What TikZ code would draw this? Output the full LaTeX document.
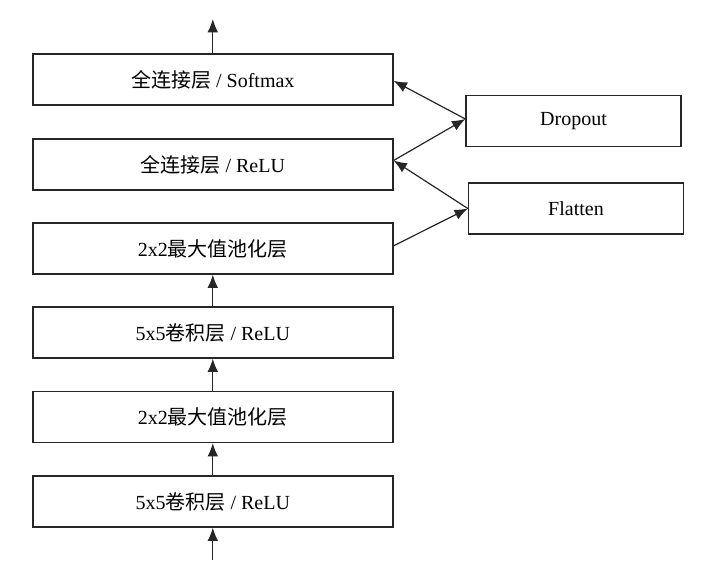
\documentclass[tikz,border=0pt]{standalone}
\usepackage{fontspec}
\setmainfont{Liberation Serif}
\newfontfamily\cjk{Noto Sans CJK SC}
\newcommand{\zh}[1]{{\cjk #1}}
\usetikzlibrary{arrows.meta}
\tikzset{every picture/.style={line width=0.75pt}}
\tikzset{
  layerbox/.style={draw=black!85, line width=1.2pt, minimum width=270pt, minimum height=38pt, inner sep=0.75pt, font=\fontsize{15}{18}\selectfont},
  sidebox/.style={draw=black!85, line width=1.2pt, minimum width=161pt, minimum height=38.5pt, inner sep=0.75pt, font=\fontsize{15}{18}\selectfont},
  flow/.style={draw=black!85, line width=0.9pt, -{Latex[length=10pt,width=8pt]}}
}

\begin{document}
\begin{tikzpicture}[x=0.75pt,y=0.75pt,yscale=-1,xscale=1]
\useasboundingbox (0,0) rectangle (726,578);

% Layer boxes
\node [layerbox] (fcsoft) at (212.8,79.5) {\zh{全连接层} / Softmax};
\node [layerbox] (fcrelu) at (212.8,164.5) {\zh{全连接层} / ReLU};
\node [layerbox] (pooltwo) at (212.8,248.5) {2x2\zh{最大值池化层}};
\node [layerbox] (convtwo) at (212.8,332.5) {5x5\zh{卷积层} / ReLU};
\node [layerbox] (poolone) at (212.8,417) {2x2\zh{最大值池化层}};
\node [layerbox] (convone) at (212.8,501.5) {5x5\zh{卷积层} / ReLU};

% Side boxes
\node [sidebox] (dropout) at (573.5,121) {Dropout};
\node [sidebox] (flatten) at (576,208.5) {Flatten};

% Free ends
\coordinate (inpt) at (212.8,560);
\coordinate (outpt) at (212.8,19);

% Vertical flow
\draw [flow] (inpt) -- (convone);
\draw [flow] (convone) -- (poolone);
\draw [flow] (poolone) -- (convtwo);
\draw [flow] (convtwo) -- (pooltwo);
\draw [flow] (fcsoft) -- (outpt);

% Side flow
\draw [flow] ([yshift=-2pt]pooltwo.east) -- (flatten.west);
\draw [flow] (flatten.west) -- ([yshift=-3pt]fcrelu.east);
\draw [flow] ([yshift=-3pt]fcrelu.east) -- ([yshift=-1.5pt]dropout.west);
\draw [flow] ([yshift=-1.5pt]dropout.west) -- ([yshift=1pt]fcsoft.east);

\end{tikzpicture}
\end{document}
